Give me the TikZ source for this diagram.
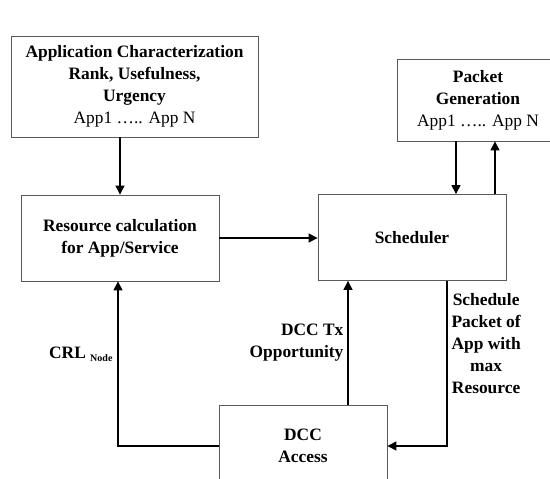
\documentclass[tikz,border=0pt]{standalone}
\usepackage{fontspec}
\setmainfont{Liberation Serif}
\usetikzlibrary{positioning,arrows.meta}
\newcommand{\bigf}{\fontsize{17.4}{22}\selectfont}
\newcommand{\smallf}{\fontsize{10}{12}\selectfont}
\tikzset{
  box/.style={draw=black!65,line width=0.8pt,align=center,font=\bigf\bfseries,inner sep=2pt},
  lbl/.style={align=center,font=\bigf\bfseries,inner sep=2pt},
  flow/.style={-{Triangle[length=9pt,width=9pt]},line width=1.1pt},
}

\begin{document}
\begin{tikzpicture}[x=1pt,y=-1pt]
  \useasboundingbox (0,0) rectangle (550,479);
  \clip (0,0) rectangle (550,479);
  \node[box,minimum width=247pt,minimum height=101pt] (app) at (134.5,86.5) {Application Characterization\\Rank, Usefulness,\\Urgency\\{\mdseries App1 ….. App N}};
  \node[box,minimum width=198pt,minimum height=86pt] (res) at (120,238) {Resource calculation\\for App/Service};
  \node[box,minimum width=188pt,minimum height=86pt] (sch) at (412,237.5) {Scheduler};
  \node[box,minimum width=162pt,minimum height=82pt] (pkt) at (478,100) {Packet\\Generation\\{\mdseries App1 ….. App N}};
  \node[box,minimum width=168pt,minimum height=82pt] (dcc) at (303,446) {DCC\\Access};
  \draw[flow] (res.north |- app.south) -- (res.north);
  \draw[flow] (res.east) -- (sch.west |- res.east);
  \draw[flow] ([xshift=-22pt]pkt.south) -- ([xshift=-22pt]pkt.south |- sch.north);
  \draw[flow] ([xshift=17pt]pkt.south |- sch.north) -- ([xshift=17pt]pkt.south);
  \draw[flow] (dcc.west) -| node[lbl,pos=0.78,left=3pt]{CRL {\smallf\raisebox{-3pt}{Node}}} ([xshift=-2pt]res.south);
  \draw[flow] ([xshift=45pt]dcc.north) -- node[lbl,left=2pt,align=right]{DCC Tx\\Opportunity} ([xshift=45pt]dcc.north |- sch.south);
  \draw[flow] ([xshift=35pt]sch.south) |- node[lbl,pos=0.19,right=2pt]{Schedule\\Packet of\\App with\\max\\Resource} (dcc.east);
\end{tikzpicture}
\end{document}
